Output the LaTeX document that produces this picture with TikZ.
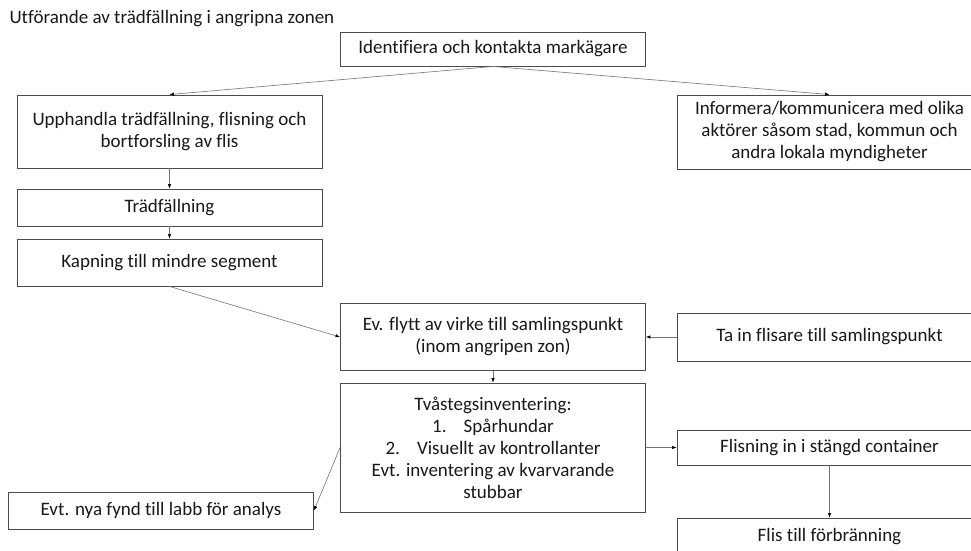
\documentclass[tikz,border=0pt]{standalone}
\usepackage{fontspec}
\setmainfont{Carlito}[Ligatures=NoCommon]
\usepackage{tikz}
\usetikzlibrary{arrows.meta}

\begin{document}
\begin{tikzpicture}[
  x=1pt,y=-1pt,
  >={Latex[length=4.5pt,width=3.5pt,color=black]},
  stepbox/.style={draw=black!70,line width=0.9pt,fill=white,
    align=center,minimum width=305pt,inner sep=2pt,
    font=\fontsize{19}{22}\selectfont,text=black!90},
  every edge/.style={draw=black!55,line width=0.6pt,->}
]
\useasboundingbox (0,0) rectangle (971,551);

\node[anchor=west,font=\fontsize{19}{22}\selectfont,text=black!90] (title) at (6,19)
 {Utförande av trädfällning i angripna zonen};

\node[stepbox,minimum height=34pt] (ident) at (493,49)
 {Identifiera och kontakta markägare};

\node[stepbox,minimum height=73pt] (upph) at (169.5,131.5)
 {Upphandla trädfällning, flisning och\\bortforsling av flis};
\node[stepbox,minimum height=37pt] (trad) at (169.5,207.5)
 {Trädfällning};
\node[stepbox,minimum height=47pt] (kap) at (169.5,262.5)
 {Kapning till mindre segment};

\node[stepbox,minimum height=74pt] (info) at (829.5,132)
 {Informera/kommunicera med olika\\aktörer såsom stad, kommun och\\andra lokala myndigheter};

\node[stepbox,minimum height=67pt] (flytt) at (493,337)
 {Ev. flytt av virke till samlingspunkt\\(inom angripen zon)};
\node[stepbox,minimum height=48pt] (tain) at (829.5,337)
 {Ta in flisare till samlingspunkt};

\node[stepbox,minimum height=129pt] (tva) at (493,447.5)
 {Tvåstegsinventering:\\
  1.\hspace{0.9em}Spårhundar\\
  2.\hspace{0.9em}Visuellt av kontrollanter\\
  Evt. inventering av kvarvarande\\stubbar};
\node[stepbox,minimum height=37pt] (nya) at (161,510.5)
 {Evt. nya fynd till labb för analys};

\node[stepbox,minimum height=35pt] (fli) at (829.5,447.5)
 {Flisning in i stängd container};
\node[stepbox,minimum height=37pt] (flis) at (829.5,536.5)
 {Flis till förbränning};

\path (ident.south) edge (upph.north)
      (ident.south) edge (info.north)
      (upph) edge (trad)
      (trad) edge (kap)
      (kap.south) edge (flytt.west)
      (tain) edge (flytt)
      (flytt) edge (tva)
      (tva.west) edge (nya.east)
      (tva) edge (fli)
      (fli) edge (flis);
\end{tikzpicture}
\end{document}
